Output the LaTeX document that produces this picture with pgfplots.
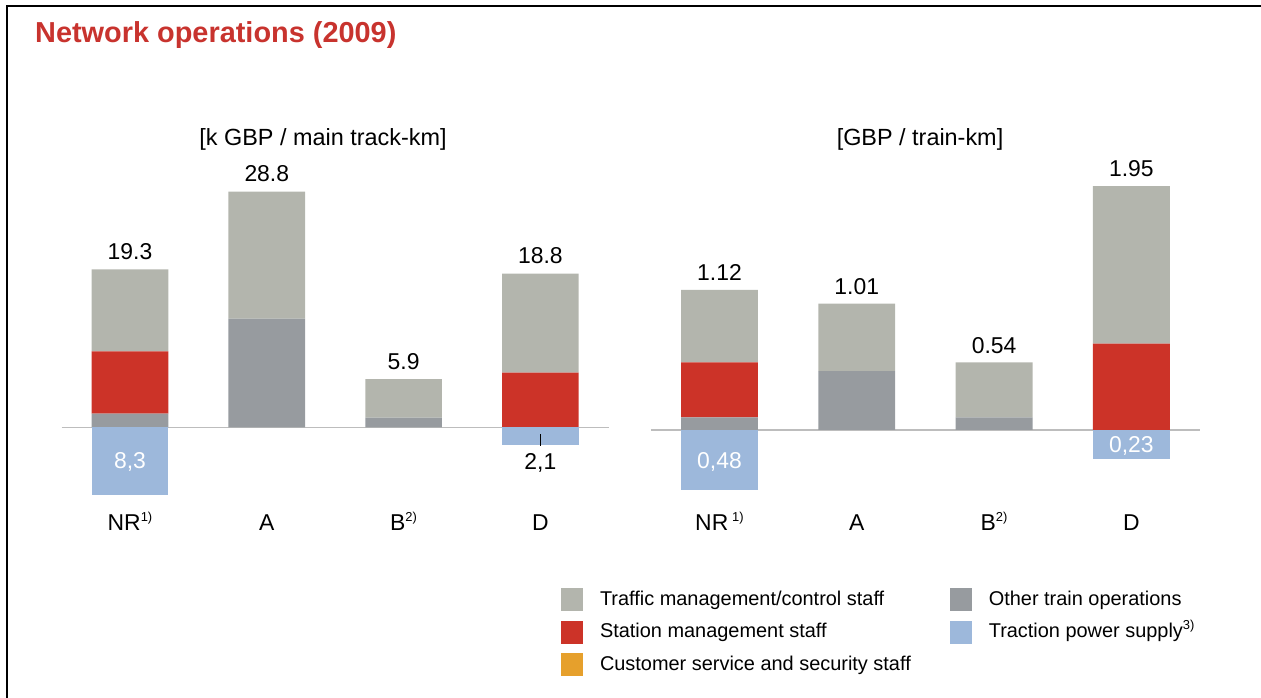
\documentclass[border=0pt]{standalone}
\usepackage{fontspec}
\setmainfont{Liberation Sans}
\usepackage{pgfplots}
\pgfplotsset{compat=1.18}
\definecolor{tgray}{HTML}{B3B5AD}
\definecolor{dgray}{HTML}{979B9F}
\definecolor{sred}{HTML}{CC3328}
\definecolor{tblue}{HTML}{9DB8DB}
\definecolor{corange}{HTML}{E6A02C}
\definecolor{titred}{HTML}{C8332E}
\definecolor{zline}{HTML}{BDBDBD}
\newcommand\sups[1]{\raisebox{0.42em}{\fontsize{13}{13}\selectfont #1}}
\newcommand\valfont{\fontsize{23}{27}\selectfont}
\pgfplotsset{
  sq/.style={legend image code/.code={\fill[##1] (0bp,-11.5bp) rectangle (22bp,11.5bp);}},
  base/.style={scale only axis, xmin=-0.5, xmax=3.5, axis line style={draw=none},
    major tick length=0pt, ytick=\empty, clip=false},
  stk/.style={base, ybar stacked, bar width=0.56, xtick={0,1,2,3},
    xticklabel style={font=\valfont, anchor=north, inner sep=0pt, text height=16.5bp, text depth=0pt},
    extra y ticks={0}, extra y tick labels={},
    extra y tick style={grid=major},
    major grid style={line width=1.2bp, draw=zline}},
  ovl/.style={base, hide axis},
}
\begin{document}
\begin{tikzpicture}
\useasboundingbox (0,0) rectangle (1261bp,698bp);
\draw[line width=2.3bp, line join=miter] (7.2bp,0bp) -- (7.2bp,691.8bp) -- (1261bp,691.8bp);
\node[anchor=base west, font=\fontsize{29}{33}\selectfont\bfseries, text=titred, inner sep=0pt] at (35bp,655bp) {Network operations (2009)};
\node[anchor=base, font=\fontsize{23.5}{28}\selectfont, inner sep=0pt] at (323bp,552.5bp) {[k GBP / main track-km]};
\node[anchor=base, font=\fontsize{23.5}{28}\selectfont, inner sep=0pt] at (920bp,552.5bp) {[GBP / train-km]};

% ---------------- left chart ----------------
\begin{axis}[stk, at={(61.6bp,188.6bp)}, anchor=south west, width=547.2bp, height=344bp,
  ymin=-10, ymax=32, xticklabels={NR\sups{1)}, A, B\sups{2)}, D},
  xticklabel style={yshift=-4.6bp}]
\addplot[fill=dgray, draw=none] coordinates {(0,1.7) (1,13.3) (2,1.2) (3,0)};
\addplot[fill=sred, draw=none] coordinates {(0,7.6) (1,0) (2,0) (3,6.7)};
\addplot[fill=tgray, draw=none] coordinates {(0,10.0) (1,15.5) (2,4.7) (3,12.1)};
\end{axis}
\begin{axis}[ovl, at={(61.6bp,188.6bp)}, anchor=south west, width=547.2bp, height=344bp,
  ymin=-10, ymax=32]
\addplot[ybar, bar shift=0pt, bar width=0.56, fill=tblue, draw=none, forget plot,
  nodes near coords, point meta=explicit symbolic,
  every node near coord/.style={anchor=center, inner sep=0pt, yshift=34bp, font=\valfont, text=white}]
  coordinates {(0,-8.3) [{8,3}]};
\addplot[ybar, bar shift=0pt, bar width=0.56, fill=tblue, draw=none, forget plot,
  nodes near coords, point meta=explicit symbolic,
  every node near coord/.style={anchor=north, inner sep=0pt, yshift=-8.5bp, font=\valfont, text=black}]
  coordinates {(3,-2.1) [{2,1}]};
\draw[black, line width=0.8bp] (axis cs:3,-0.8) -- (axis cs:3,-2.3);
\addplot[draw=none, mark=none, forget plot, nodes near coords, point meta=explicit symbolic,
  every node near coord/.style={anchor=south, inner sep=0pt, yshift=9.5bp, font=\valfont}]
  coordinates {(0,19.3) [19.3] (1,28.8) [28.8] (2,5.9) [5.9] (3,18.8) [18.8]};
\end{axis}

% ---------------- right chart ----------------
\begin{axis}[stk, at={(650.8bp,188bp)}, anchor=south west, width=549.2bp, height=355bp,
  ymin=-0.64, ymax=2.2, xticklabels={NR\,\sups{1)}, A, B\sups{2)}, D},
  xticklabel style={yshift=-4bp}]
\addplot[fill=dgray, draw=none] coordinates {(0,0.10) (1,0.47) (2,0.10) (3,0)};
\addplot[fill=sred, draw=none] coordinates {(0,0.44) (1,0) (2,0) (3,0.69)};
\addplot[fill=tgray, draw=none] coordinates {(0,0.58) (1,0.54) (2,0.44) (3,1.26)};
\end{axis}
\begin{axis}[ovl, at={(650.8bp,188bp)}, anchor=south west, width=549.2bp, height=355bp,
  ymin=-0.64, ymax=2.2,
  legend columns=2, legend cell align=left,
  legend style={at={(-0.1635,-0.2211)}, anchor=north west, draw=none, fill=none,
    inner sep=0pt, outer sep=0pt, row sep=9.5bp,
    font=\fontsize{20}{24}\selectfont,
    nodes={inner sep=0pt, text height=14.5bp, text depth=4bp},
    /tikz/every odd column/.append style={column sep=17bp},
    /tikz/every even column/.append style={column sep=39bp}}]
\addplot[ybar, bar shift=0pt, bar width=0.56, fill=tblue, draw=none, forget plot,
  nodes near coords, point meta=explicit symbolic,
  every node near coord/.style={anchor=center, inner sep=0pt, yshift=28.5bp, font=\valfont, text=white}]
  coordinates {(0,-0.48) [{0,48}]};
\addplot[ybar, bar shift=0pt, bar width=0.56, fill=tblue, draw=none, forget plot,
  nodes near coords, point meta=explicit symbolic,
  every node near coord/.style={anchor=center, inner sep=0pt, yshift=12.5bp, font=\valfont, text=white}]
  coordinates {(3,-0.23) [{0,23}]};
\addplot[draw=none, mark=none, forget plot, nodes near coords, point meta=explicit symbolic,
  every node near coord/.style={anchor=south, inner sep=0pt, yshift=9bp, font=\valfont}]
  coordinates {(0,1.12) [1.12] (1,1.01) [1.01] (2,0.54) [0.54] (3,1.95) [1.95]};
\addlegendimage{sq, fill=tgray, draw=none}
\addlegendentry{Traffic management/control staff}
\addlegendimage{sq, fill=dgray, draw=none}
\addlegendentry{Other train operations}
\addlegendimage{sq, fill=sred, draw=none}
\addlegendentry{Station management staff}
\addlegendimage{sq, fill=tblue, draw=none}
\addlegendentry{Traction power supply\sups{3)}}
\addlegendimage{sq, fill=corange, draw=none}
\addlegendentry{Customer service and security staff}
\end{axis}
\end{tikzpicture}
\end{document}
